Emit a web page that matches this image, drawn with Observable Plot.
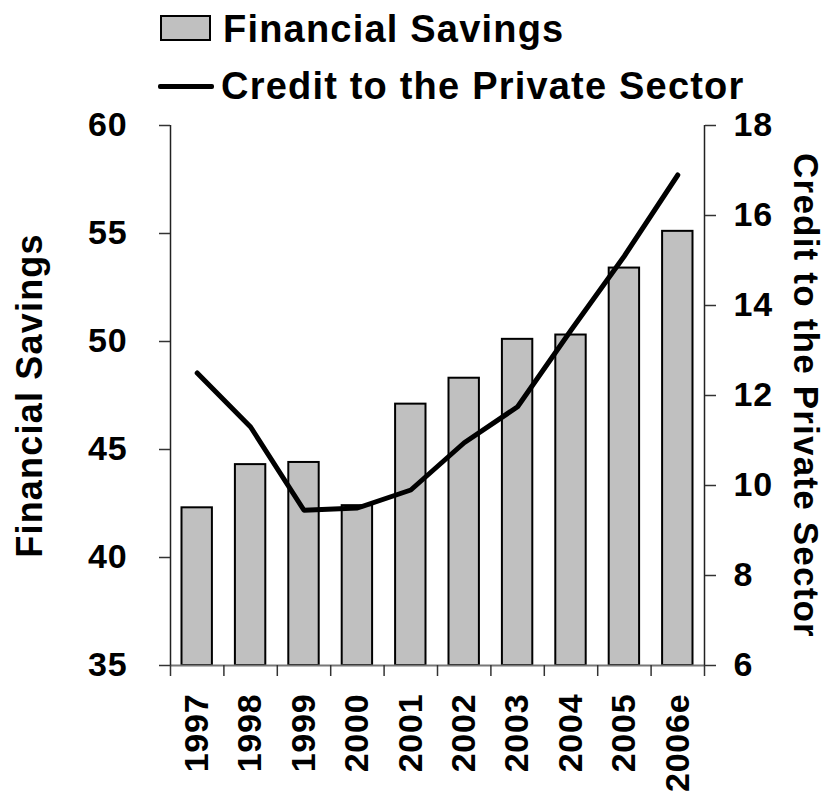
<!DOCTYPE html>
<html><head><meta charset="utf-8">
<script src="https://cdn.jsdelivr.net/npm/d3@7"></script>
<script src="https://cdn.jsdelivr.net/npm/@observablehq/plot@0.6"></script>
<style>
body{margin:0;background:#fff;font-family:"Liberation Sans",Arial,sans-serif;font-weight:bold;}
#legend{position:relative;height:100px;width:826px;z-index:2;}
#chart{position:relative;z-index:1;}
.sw{position:absolute;}
.lt{position:absolute;left:223px;font-size:38px;line-height:38px;letter-spacing:1.2px;white-space:nowrap;color:#000;}
</style></head><body>
<div id="legend"></div>
<div id="chart"></div>
<script>
const years = ["1997","1998","1999","2000","2001","2002","2003","2004","2005","2006e"];
const savings = [42.3, 44.3, 44.4, 42.4, 47.1, 48.3, 50.1, 50.3, 53.4, 55.1];
const credit = [12.5, 11.3, 9.45, 9.5, 9.9, 10.95, 11.75, 13.45, 15.1, 16.9];
const leftTicks = [35, 40, 45, 50, 55, 60];
const rightTicks = [6, 8, 10, 12, 14, 16, 18];
const seriesNames = ["Financial Savings", "Credit to the Private Sector"];

const toLeft = v => 35 + (v - 6) * 25 / 12;
const fromLeft = v => 6 + (v - 35) * 12 / 25;
const data = years.map((y, i) => ({i, year: y, savings: savings[i], credit: credit[i]}));

// legend
const lg = document.getElementById("legend");
lg.innerHTML = `
<div class="sw" style="left:160px;top:15px;width:47px;height:22px;background:#c0c0c0;border:2px solid #000;"></div>
<div class="lt" style="top:10px">${seriesNames[0]}</div>
<div class="sw" style="left:158px;top:84px;width:56px;height:5px;background:#000;border-radius:2px;"></div>
<div class="lt" style="top:67px;left:221px">${seriesNames[1]}</div>`;

const font = '"Liberation Sans", Arial, sans-serif';
const chart = Plot.plot({
  width: 826, height: 694,
  marginTop: 25, marginBottom: 129, marginLeft: 170, marginRight: 122,
  style: {fontFamily: font, fontSize: "34px", fontWeight: "bold", color: "#000", background: "transparent", overflow: "visible"},
  x: {domain: [0, 10]},
  y: {domain: [35, 60]},
  marks: [
    Plot.rectY(data, {x1: "i", x2: d => d.i + 1, y1: 35, y2: "savings", insetLeft: 11.5, insetRight: 11.5,
      fill: "#c0c0c0", stroke: "#000", strokeWidth: 2}),
    Plot.ruleY([35], {stroke: "#777", strokeWidth: 2}),
    Plot.ruleX([0, 10], {stroke: "#222", strokeWidth: 1.5}),
    Plot.axisX(d3.range(11), {tickSize: 11, tickFormat: () => "", stroke: "#333", strokeWidth: 1.5, label: null}),
    Plot.axisX(data.map(d => d.i + 0.5), {tickSize: 0, tickPadding: 28, tickRotate: -90,
      tickFormat: v => years[Math.round(v - 0.5)], label: null, fontSize: 34, fontWeight: "bold"}),
    Plot.axisY(leftTicks, {anchor: "left", tickSize: 11, tickPadding: 32, stroke: "#333", strokeWidth: 1.5,
      label: null, fontSize: 34, fontWeight: "bold"}),
    Plot.axisY(rightTicks.map(toLeft), {anchor: "right", tickSize: 11, tickPadding: 18, stroke: "#333", strokeWidth: 1.5,
      tickFormat: v => String(Math.round(fromLeft(v))), label: null, fontSize: 34, fontWeight: "bold"}),
    Plot.line(data, {x: d => d.i + 0.5, y: d => toLeft(d.credit), stroke: "#000", strokeWidth: 5}),
    Plot.text([seriesNames[0]], {frameAnchor: "left", rotate: -90, dx: -140, textAnchor: "middle",
      fontSize: 36, fontWeight: "bold", fill: "#000"}),
    Plot.text([seriesNames[1]], {frameAnchor: "right", rotate: 90, dx: 101, textAnchor: "middle",
      fontSize: 35, fontWeight: "bold", fill: "#000"})
  ]
});
d3.select(chart).selectAll("text")
  .filter(function() { return seriesNames.includes(this.textContent); })
  .attr("letter-spacing", "1.2px");
d3.select(chart).selectAll("text")
  .filter(function() { return !seriesNames.includes(this.textContent); })
  .attr("letter-spacing", "0.8px");
document.getElementById("chart").appendChild(chart);
</script>
</body></html>
